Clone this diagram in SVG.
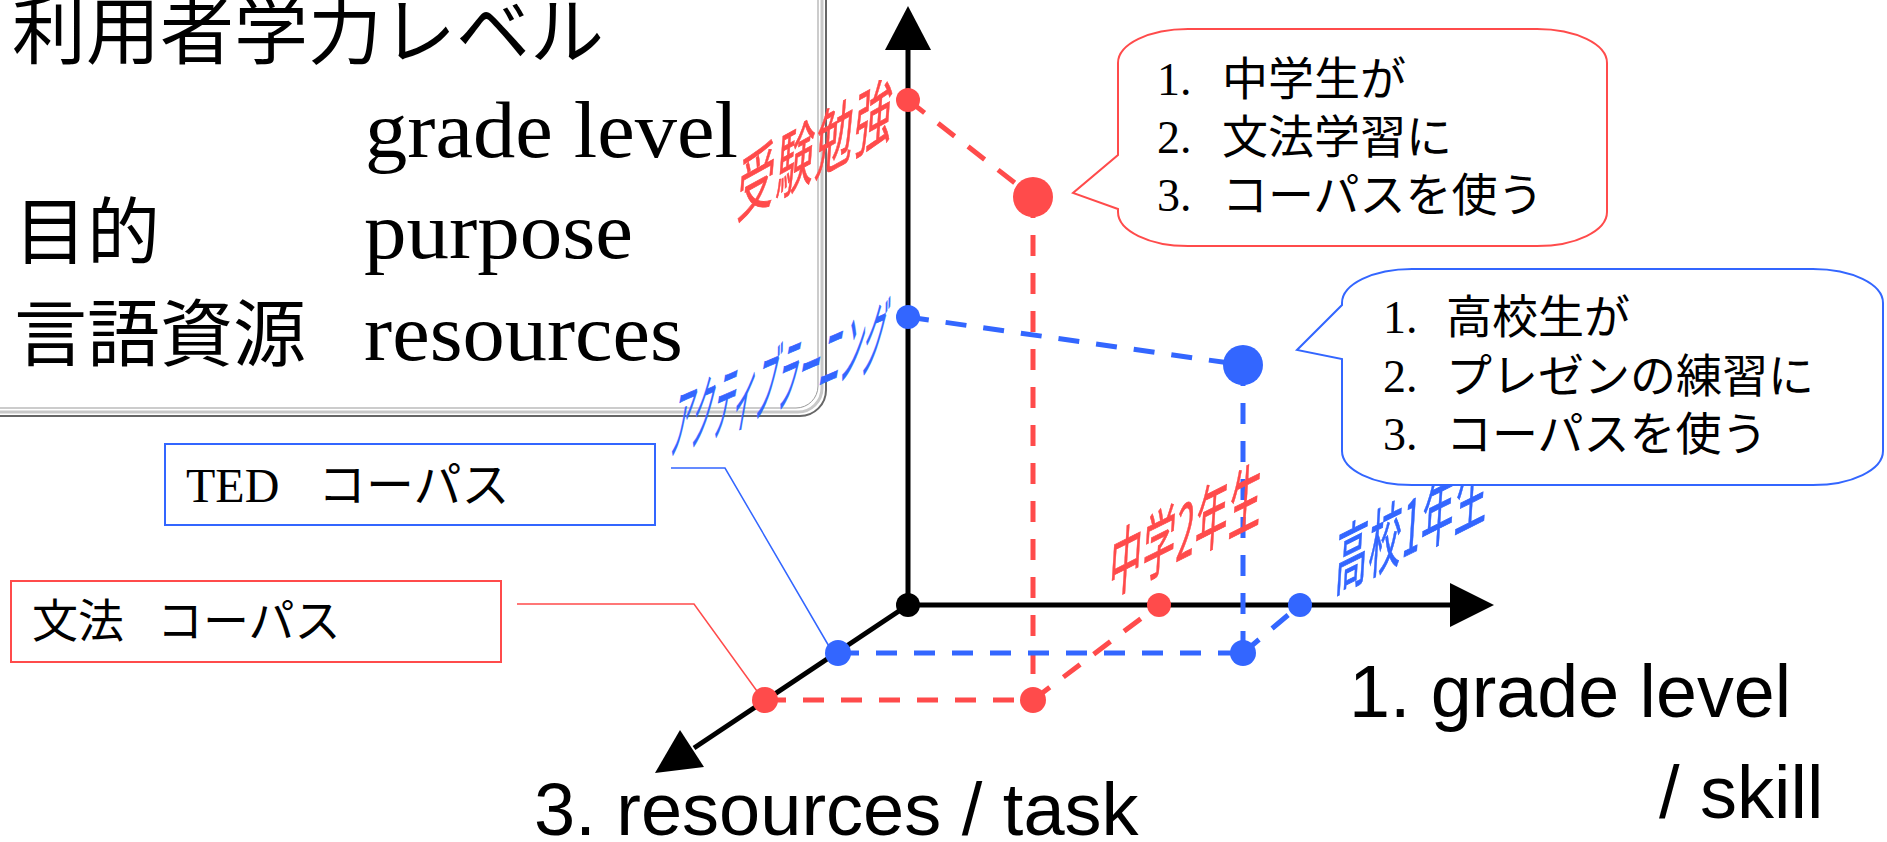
<svg xmlns="http://www.w3.org/2000/svg" width="1887" height="842" viewBox="0 0 1887 842">
<style>
.serif{font-family:"Liberation Serif","Noto Sans CJK JP",serif;fill:#000}
.sans{font-family:"Liberation Sans","Noto Sans CJK JP",sans-serif;fill:#000}
.cjk{font-family:"Noto Sans CJK JP","Liberation Sans",sans-serif}
.axis{stroke:#000;stroke-width:5;fill:none}
.rd{stroke:#FF4B4B;stroke-width:5;stroke-dasharray:21 17;fill:none}
.bd{stroke:#3366FF;stroke-width:5;stroke-dasharray:21 17;fill:none}
.red{fill:#FF4B4B}
.blue{fill:#3366FF}
.rt{fill:#FF4B4B;stroke:#FF4B4B;stroke-width:0.7}
.bt{fill:#3366FF;stroke:#3366FF;stroke-width:0.7}
.rline{stroke:#FF4B4B;stroke-width:1.5;fill:none}
.bline{stroke:#3366FF;stroke-width:1.5;fill:none}
</style>
<rect width="1887" height="842" fill="#fff"/>

<g id="legend-box">
<rect x="-30" y="-30" width="856" height="446" rx="26" ry="26" fill="#fff" stroke="#666" stroke-width="2"/>
<rect x="-30" y="-30" width="852" height="442" rx="24" ry="24" fill="none" stroke="#c8c8c8" stroke-width="3"/>
<rect x="-30" y="-30" width="848" height="438" rx="22" ry="22" fill="none" stroke="#999" stroke-width="1"/>
<text class="cjk" x="12" y="58" font-size="74">利用者学力レベル</text>
<text class="serif" x="365" y="157" font-size="80" textLength="373" lengthAdjust="spacingAndGlyphs">grade level</text>
<text class="cjk" x="14" y="258" font-size="73">目的</text>
<text class="serif" x="364" y="258" font-size="80" textLength="269" lengthAdjust="spacingAndGlyphs">purpose</text>
<text class="cjk" x="14" y="360" font-size="73">言語資源</text>
<text class="serif" x="364" y="360" font-size="80" textLength="319" lengthAdjust="spacingAndGlyphs">resources</text>
</g>

<g id="axes">
<line class="axis" x1="908" y1="605" x2="908" y2="48"/>
<polygon points="908,6 885,50 931,50" fill="#000"/>
<line class="axis" x1="908" y1="605" x2="1452" y2="605"/>
<polygon points="1494,605 1450,583 1450,627" fill="#000"/>
<line class="axis" x1="908" y1="605" x2="694" y2="748"/>
<polygon points="655,773 680,730 704,767" fill="#000"/>
<circle cx="908" cy="605" r="12" fill="#000"/>
</g>

<g id="connectors">
<polyline class="rd" points="908,100 1033,197"/>
<line class="rd" x1="1033" y1="197" x2="1033" y2="700"/>
<line class="rd" x1="765" y1="700" x2="1033" y2="700"/>
<line class="rd" x1="1033" y1="700" x2="1159" y2="605"/>
<line class="bd" x1="908" y1="317" x2="1243" y2="365"/>
<line class="bd" x1="1243" y1="365" x2="1243" y2="653"/>
<line class="bd" x1="838" y1="653" x2="1243" y2="653"/>
<line class="bd" x1="1243" y1="653" x2="1300" y2="605"/>
<polyline class="bline" points="671,468 725,468 830,648"/>
<polyline class="rline" points="517,604 694,604 762,698"/>
</g>

<g id="points">
<circle class="red" cx="908" cy="100" r="12"/>
<circle class="red" cx="1033" cy="197" r="20"/>
<circle class="red" cx="1159" cy="605" r="12"/>
<circle class="red" cx="1033" cy="700" r="13"/>
<circle class="red" cx="765" cy="700" r="13"/>
<circle class="blue" cx="908" cy="317" r="12"/>
<circle class="blue" cx="1243" cy="365" r="20"/>
<circle class="blue" cx="1300" cy="605" r="12"/>
<circle class="blue" cx="1243" cy="653" r="13"/>
<circle class="blue" cx="838" cy="653" r="13"/>
</g>

<g id="label-juken">
<text class="cjk rt" font-size="62" letter-spacing="3" transform="matrix(0.6 -0.33 -0.09 1.2 736 219)">受験勉強</text>
</g>
<g id="label-active">
<text class="cjk bt" font-size="70" letter-spacing="2" transform="matrix(0.3 -0.13 -0.2 1.15 668 455)">アクティブラーニング</text>
</g>
<g id="label-chu2">
<text class="cjk rt" font-size="60" letter-spacing="2" transform="matrix(0.54 -0.27 -0.08 1.25 1108 596)">中学2年生</text>
</g>
<g id="label-kou1">
<text class="cjk bt" font-size="60" letter-spacing="2" transform="matrix(0.54 -0.27 -0.08 1.25 1334 592)">高校1年生</text>
</g>

<g id="callout-red">
<path d="M1188,29 H1537 A70,34 0 0 1 1607,63 V212 A70,34 0 0 1 1537,246 H1188 A70,34 0 0 1 1118,212 V209 L1073,193 L1118,155 V63 A70,34 0 0 1 1188,29 Z" fill="#fff" stroke="#FF4B4B" stroke-width="2"/>
<text class="serif" x="1157" y="95" font-size="46">1.<tspan x="1222">中学生が</tspan></text>
<text class="serif" x="1157" y="153" font-size="46">2.<tspan x="1222">文法学習に</tspan></text>
<text class="serif" x="1157" y="211" font-size="46">3.<tspan x="1222">コーパスを使う</tspan></text>
</g>

<g id="callout-blue">
<path d="M1412,269 H1813 A70,34 0 0 1 1883,303 V451 A70,34 0 0 1 1813,485 H1412 A70,34 0 0 1 1342,451 V359 L1297,350 L1342,305 V303 A70,34 0 0 1 1412,269 Z" fill="#fff" stroke="#3366FF" stroke-width="2"/>
<text class="serif" x="1383" y="333" font-size="46">1.<tspan x="1446">高校生が</tspan></text>
<text class="serif" x="1383" y="392" font-size="46">2.<tspan x="1446">プレゼンの練習に</tspan></text>
<text class="serif" x="1383" y="450" font-size="46">3.<tspan x="1446">コーパスを使う</tspan></text>
</g>

<g id="box-ted">
<rect x="165" y="444" width="490" height="81" fill="#fff" stroke="#3366FF" stroke-width="2"/>
<text class="serif" x="186" y="502" font-size="48">TED<tspan x="318">コーパス</tspan></text>
</g>
<g id="box-bunpo">
<rect x="11" y="581" width="490" height="81" fill="#fff" stroke="#FF4B4B" stroke-width="2"/>
<text class="serif" x="32" y="637" font-size="46">文法<tspan x="157">コーパス</tspan></text>
</g>

<g id="axis-labels">
<text class="sans" x="1349" y="717" font-size="74" textLength="442" lengthAdjust="spacingAndGlyphs">1. grade level</text>
<text class="sans" x="1659" y="818" font-size="74">/ skill</text>
<text class="sans" x="534" y="835" font-size="74">3. resources / task</text>
</g>
</svg>
